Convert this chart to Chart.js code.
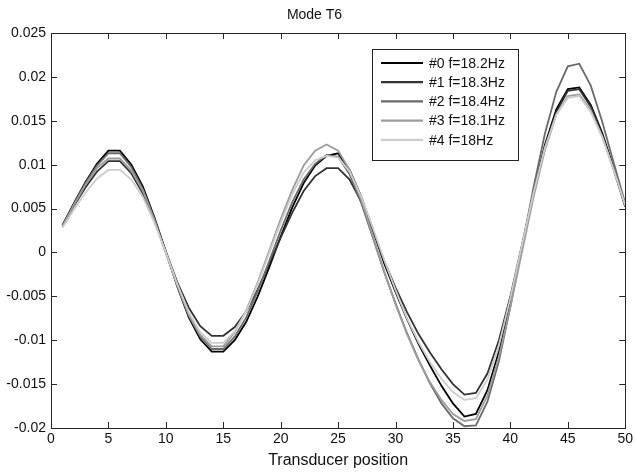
<!DOCTYPE html>
<html>
<head>
<meta charset="utf-8">
<script src="https://cdn.jsdelivr.net/npm/chart.js@4.4.0/dist/chart.umd.min.js"></script>
<style>
html, body { margin: 0; padding: 0; background: #fff; }
</style>
</head>
<body>
<canvas id="g1" width="636" height="474"></canvas>
<script>
// transducer positions (x)
var positions = [1, 2, 3, 4, 5, 6, 7, 8, 9, 10, 11, 12, 13, 14, 15, 16, 17, 18, 19, 20,
    21, 22, 23, 24, 25, 26, 27, 28, 29, 30, 31, 32, 33, 34, 35, 36, 37, 38, 39, 40,
    41, 42, 43, 44, 45, 46, 47, 48, 49, 50];

var names = ['#0 f=18.2Hz', '#1 f=18.3Hz', '#2 f=18.4Hz', '#3 f=18.1Hz', '#4 f=18Hz'];

// mode shapes
var mode0 = [0.0031, 0.0056, 0.0080, 0.0101, 0.0116, 0.0116, 0.0100, 0.0075, 0.0040, 0.0001,
    -0.0039, -0.0074, -0.0099, -0.0113, -0.0113, -0.0100, -0.0079, -0.0050, -0.0017, 0.0018,
    0.0051, 0.0079, 0.0099, 0.0110, 0.0113, 0.0094, 0.0064, 0.0027, -0.0012, -0.0045,
    -0.0076, -0.0104, -0.0129, -0.0152, -0.0172, -0.0187, -0.0184, -0.0157, -0.0113, -0.0057,
    0.0006, 0.0068, 0.0122, 0.0163, 0.0186, 0.0188, 0.0168, 0.0136, 0.0096, 0.0053];

var mode1 = [0.0030, 0.0053, 0.0074, 0.0092, 0.0104, 0.0104, 0.0090, 0.0067, 0.0036, 0.0001,
    -0.0034, -0.0063, -0.0084, -0.0095, -0.0095, -0.0085, -0.0067, -0.0042, -0.0013, 0.0017,
    0.0045, 0.0070, 0.0087, 0.0096, 0.0096, 0.0083, 0.0058, 0.0026, -0.0009, -0.0040,
    -0.0068, -0.0093, -0.0114, -0.0133, -0.0150, -0.0162, -0.0160, -0.0138, -0.0100, -0.0050,
    0.0008, 0.0067, 0.0120, 0.0160, 0.0184, 0.0186, 0.0166, 0.0134, 0.0094, 0.0052];

var mode2 = [0.0030, 0.0055, 0.0079, 0.0099, 0.0113, 0.0113, 0.0097, 0.0072, 0.0038, 0.0000,
    -0.0038, -0.0072, -0.0096, -0.0110, -0.0110, -0.0096, -0.0074, -0.0044, -0.0010, 0.0025,
    0.0057, 0.0083, 0.0101, 0.0111, 0.0109, 0.0089, 0.0057, 0.0018, -0.0022, -0.0058,
    -0.0092, -0.0122, -0.0149, -0.0172, -0.0189, -0.0198, -0.0197, -0.0170, -0.0124, -0.0062,
    0.0005, 0.0073, 0.0135, 0.0183, 0.0212, 0.0215, 0.0190, 0.0149, 0.0102, 0.0056];

var mode3 = [0.0030, 0.0054, 0.0077, 0.0096, 0.0107, 0.0107, 0.0093, 0.0070, 0.0037, -0.0001,
    -0.0038, -0.0071, -0.0094, -0.0107, -0.0107, -0.0091, -0.0066, -0.0034, 0.0002, 0.0038,
    0.0071, 0.0099, 0.0116, 0.0123, 0.0116, 0.0094, 0.0061, 0.0020, -0.0021, -0.0059,
    -0.0093, -0.0123, -0.0148, -0.0168, -0.0184, -0.0192, -0.0190, -0.0163, -0.0119, -0.0062,
    0.0000, 0.0062, 0.0116, 0.0157, 0.0178, 0.0180, 0.0162, 0.0132, 0.0094, 0.0053];

var mode4 = [0.0028, 0.0049, 0.0068, 0.0084, 0.0094, 0.0094, 0.0083, 0.0063, 0.0034, 0.0000,
    -0.0036, -0.0068, -0.0091, -0.0103, -0.0103, -0.0090, -0.0067, -0.0036, -0.0001, 0.0034,
    0.0066, 0.0091, 0.0105, 0.0110, 0.0108, 0.0092, 0.0064, 0.0029, -0.0008, -0.0043,
    -0.0075, -0.0102, -0.0125, -0.0144, -0.0159, -0.0168, -0.0166, -0.0145, -0.0106, -0.0052,
    0.0008, 0.0067, 0.0119, 0.0157, 0.0176, 0.0178, 0.0160, 0.0131, 0.0094, 0.0054];

var xTicks = [0, 5, 10, 15, 20, 25, 30, 35, 40, 45, 50];

var lineColors = ['#000000', '#333333', '#6a6a6a', '#9c9c9c', '#cdcdcd'];
var fontFam = '"Liberation Sans", Arial, Helvetica, sans-serif';

var allModes = [mode0, mode1, mode2, mode3, mode4];

var datasets = allModes.map(function(m, i) {
    return {
        label: names[i],
        data: m.map(function(v, k) { return {x: positions[k], y: v}; }),
        borderColor: lineColors[i],
        backgroundColor: lineColors[i],
        borderWidth: 1.8,
        pointRadius: 0,
        tension: 0,
        fill: false,
        order: 5 - i
    };
});

// box + inward ticks + legend, matlab style
var matlabBox = {
    id: 'matlabBox',
    afterDraw: function(chart) {
        var ctx = chart.ctx;
        var a = chart.chartArea;
        var xs = chart.scales.x, ys = chart.scales.y;
        ctx.save();
        ctx.strokeStyle = '#262626';
        ctx.lineWidth = 1;
        ctx.strokeRect(Math.round(a.left) + 0.5, Math.round(a.top) + 0.5,
            Math.round(a.right - a.left), Math.round(a.bottom - a.top));
        ctx.beginPath();
        xs.ticks.forEach(function(t) {
            var px = Math.round(xs.getPixelForValue(t.value)) + 0.5;
            ctx.moveTo(px, a.bottom); ctx.lineTo(px, a.bottom - 6);
            ctx.moveTo(px, a.top); ctx.lineTo(px, a.top + 6);
        });
        ys.ticks.forEach(function(t) {
            var py = Math.round(ys.getPixelForValue(t.value)) + 0.5;
            ctx.moveTo(a.left, py); ctx.lineTo(a.left + 6, py);
            ctx.moveTo(a.right, py); ctx.lineTo(a.right - 6, py);
        });
        ctx.stroke();

        // legend
        var lx = 372, ly = 49, lw = 146, lh = 111;
        ctx.fillStyle = '#ffffff';
        ctx.fillRect(lx, ly, lw, lh);
        ctx.strokeStyle = '#222222';
        ctx.strokeRect(lx + 0.5, ly + 0.5, lw, lh);
        ctx.font = '14px ' + fontFam;
        ctx.textBaseline = 'middle';
        ctx.textAlign = 'left';
        chart.data.datasets.forEach(function(ds, i) {
            var yy = ly + 14 + i * 19.2;
            ctx.strokeStyle = ds.borderColor;
            ctx.lineWidth = 2.2;
            ctx.beginPath();
            ctx.moveTo(lx + 9, yy);
            ctx.lineTo(lx + 51, yy);
            ctx.stroke();
            ctx.fillStyle = '#111111';
            ctx.fillText(ds.label, lx + 57, yy + 1);
        });
        ctx.restore();
    }
};

var ctx = document.getElementById('g1');

var myChart = new Chart(ctx, {
    type: 'line',
    data: { datasets: datasets },
    options: {
        responsive: false,
        animation: false,
        devicePixelRatio: 1,
        layout: { padding: { left: 0, right: 7, top: 0, bottom: 0 } },
        plugins: {
            legend: { display: false },
            tooltip: { enabled: false },
            title: {
                display: true,
                text: 'Mode T6',
                color: '#111',
                font: { family: fontFam, size: 14, weight: 'normal' },
                padding: { top: 7, bottom: 9.2 }
            }
        },
        scales: {
            x: {
                type: 'linear',
                min: 0,
                max: 50,
                afterBuildTicks: function(scale) {
                    scale.ticks = xTicks.map(function(v) { return {value: v}; });
                },
                afterFit: function(scale) { scale.height = 46; },
                grid: { display: false, drawTicks: false },
                border: { display: false },
                ticks: {
                    color: '#111',
                    padding: 3,
                    maxRotation: 0,
                    font: { family: fontFam, size: 14 }
                },
                title: {
                    display: true,
                    text: 'Transducer position',
                    color: '#111',
                    font: { family: fontFam, size: 16 },
                    padding: { top: 0, bottom: 4 }
                }
            },
            y: {
                type: 'linear',
                min: -0.02,
                max: 0.025,
                ticks: {
                    stepSize: 0.005,
                    color: '#111',
                    padding: 5,
                    font: { family: fontFam, size: 14 },
                    callback: function(v) { return String(+v.toFixed(3)); }
                },
                afterFit: function(scale) { scale.width = 51; },
                grid: { display: false, drawTicks: false },
                border: { display: false }
            }
        }
    },
    plugins: [matlabBox]
});
</script>
</body>
</html>
